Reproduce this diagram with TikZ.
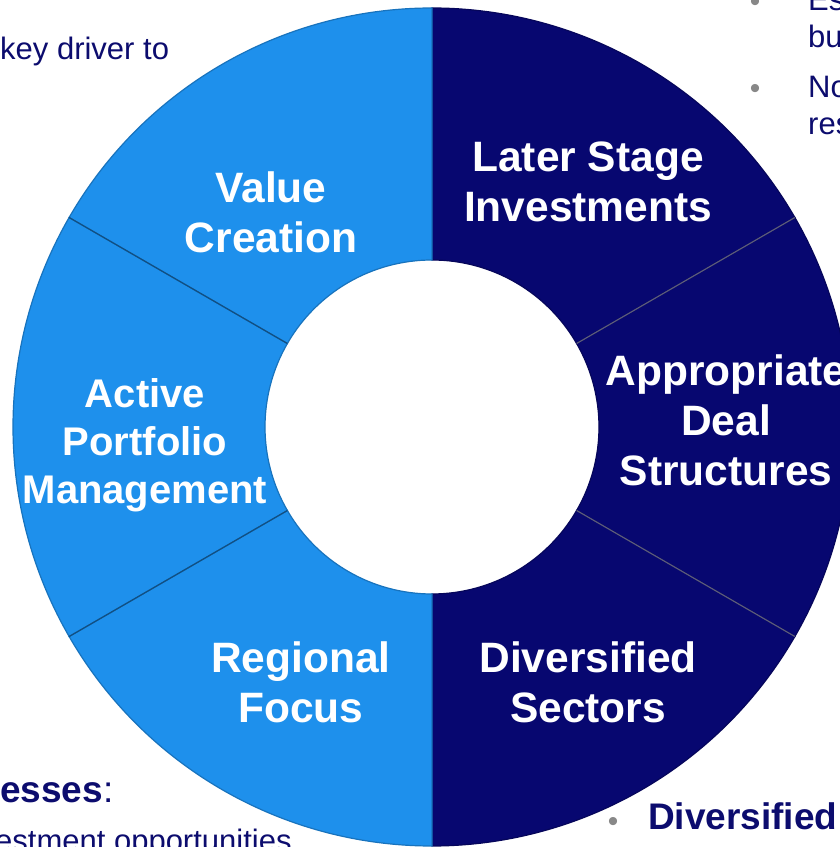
\documentclass[tikz,border=0pt]{standalone}
\usepackage{fontspec}
\setmainfont{Liberation Sans}
\definecolor{ringblue}{RGB}{30,144,236}
\definecolor{ringnavy}{RGB}{7,7,112}
\definecolor{textnavy}{RGB}{12,12,110}
\definecolor{bulletgrey}{RGB}{136,136,136}

\begin{document}
\begin{tikzpicture}[x=1pt,y=1pt]
\tikzstyle{seglabel} = [text=white, font=\fontsize{42.5}{50}\selectfont\bfseries, align=center, inner sep=0pt]
\tikzstyle{bgtext} = [text=textnavy, font=\fontsize{31}{37}\selectfont, anchor=base west, inner sep=0pt]
\tikzstyle{bgbullet} = [text=bulletgrey, font=\fontsize{30}{30}\selectfont, anchor=base, inner sep=0pt]
\useasboundingbox (0,0) rectangle (840,847);
\clip (0,0) rectangle (840,847);
% text of the slide behind the ring
\node[bgtext] (keydriver) at (0,787) {key driver to};
\node[bgbullet] (bulletes) at (755,835) {•};
\node[bgtext] (es) at (808,836) {Es};
\node[bgtext] (bu) at (808,799) {bu};
\node[bgbullet] (bulletno) at (755,748) {•};
\node[bgtext] (no) at (808,749) {No};
\node[bgtext] (res) at (808,712) {res};
\node[bgtext] (esses) at (0,45) {\fontsize{37}{37}\selectfont\textbf{esses}:};
\node[bgtext] (opport) at (-5,-5) {estment opportunities};
\node[bgbullet] (bulletdiv) at (613,16) {•};
\node[bgtext] (diversified) at (648,17) {\fontsize{37}{37}\selectfont\textbf{Diversified}};
% the ring
\coordinate (ctr) at (432,420);
\begin{scope}[shift={(ctr)}]
\foreach \a/\b/\col in {90/30/ringnavy, 30/-30/ringnavy, -30/-90/ringnavy,
                        -90/-150/ringblue, -150/-210/ringblue, 150/90/ringblue}
  \filldraw[fill=\col, draw=\col!80!black, line width=1.2pt]
    (\a:419) arc[start angle=\a, end angle=\b, radius=419]
    -- (\b:167) arc[start angle=\b, end angle=\a, radius=167] -- cycle;
\foreach \a in {30,-30}
  \draw[gray!70!ringnavy, line width=1.2pt] (\a:167) -- (\a:419);
\foreach \a in {150,210}
  \draw[ringblue!55!black, line width=1.2pt] (\a:167) -- (\a:419);
\end{scope}
% labels
\node[seglabel] (value) at (271,635) {Value\\Creation};
\node[seglabel] (later) at (588,665) {Later Stage\\Investments};
\node[seglabel] (deal) at (726,427) {Appropriate\\Deal\\Structures};
\node[seglabel] (sectors) at (588,165) {Diversified\\Sectors};
\node[seglabel] (regional) at (301,165) {Regional\\Focus};
\node[seglabel, font=\fontsize{40}{48}\selectfont\bfseries] (active) at (145,402) {Active\\Portfolio\\Management};
\end{tikzpicture}
\end{document}
